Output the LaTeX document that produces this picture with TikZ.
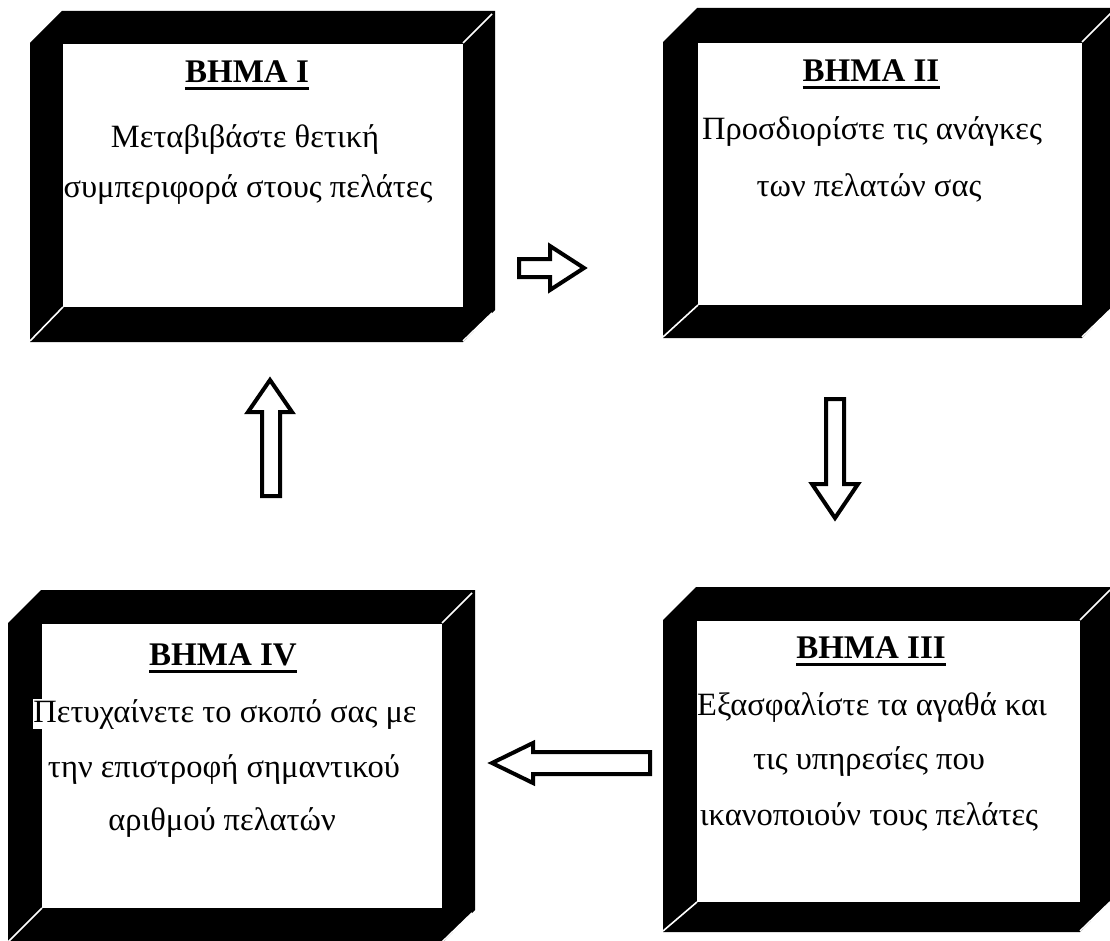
\documentclass[tikz,border=0pt]{standalone}
\usepackage{fontspec}
\setmainfont{Liberation Serif}
\newcommand\cubebox[8]{%
  % #1 name, #2 x0, #3 xi, #4 xr, #5 yF, #6 yb, #7 yB, #8 depth
  \fill[framefill] (#2,#7) -- (#2,#5) -- ({#2+#8},{#5-#8}) -- ({#4+#8},{#5-#8})
     -- ({#4+#8},{#7-#8}) -- (#4,#7) -- cycle;
  \fill[white] (#3,{#5+1}) rectangle (#4,#6);
  \coordinate (#1) at ({(#3+#4)/2},{(#5+#6)/2});
  \draw[edgeline] (#2,{#7-1}) -- (#3,#6);
  \draw[edgeline] (#4,#5) -- ({#4+#8-3},{#5-#8+3});
  \draw[edgeline] (#4,{#7-1}) -- ({#4+#8-3},{#7-#8+3});
}
\begin{document}
\begin{tikzpicture}[x=1pt,y=-1pt,
  framefill/.style={fill=black},
  edgeline/.style={draw=white,line width=1.6pt},
  txt/.style={font=\fontsize{32.5}{38}\selectfont,inner sep=0pt,anchor=base},
  head/.style={font=\fontsize{33}{40}\selectfont\bfseries,inner sep=0pt,anchor=base},
  uline/.style={line width=3pt},
  blockarrow/.style={draw=black,line width=4pt,fill=white,line join=miter}]
\useasboundingbox (0,0) rectangle (1110,941);
\clip (0,0) rectangle (1110,941);

% boxes
\cubebox{boxI}{30}{63}{463}{43}{307}{342}{32}
\cubebox{boxII}{663}{698}{1082}{42}{305}{338}{34}
\cubebox{boxIII}{663}{697}{1080}{620}{902}{932}{33}
\cubebox{boxIV}{8}{42}{442}{623}{908}{943}{33}

% texts box I
\node[head] (h1) at (247,83) {ΒΗΜΑ I};
\draw[uline] ([yshift=-6pt]h1.base west) -- ([yshift=-6pt]h1.base east);
\node[txt] (t1a) at (245,148) {Μεταβιβάστε θετική};
\node[txt] (t1b) at (248,198) {συμπεριφορά στους πελάτες};

% texts box II
\node[head] (h2) at (871,82) {ΒΗΜΑ II};
\draw[uline] ([yshift=-6pt]h2.base west) -- ([yshift=-6pt]h2.base east);
\node[txt] (t2a) at (872,140) {Προσδιορίστε τις ανάγκες};
\node[txt] (t2b) at (869,197) {των πελατών σας};

% texts box III
\node[head] (h3) at (871,658) {ΒΗΜΑ III};
\draw[uline] ([yshift=-6pt]h3.base west) -- ([yshift=-6pt]h3.base east);
\node[txt] (t3a) at (872,715) {Εξασφαλίστε τα αγαθά και};
\node[txt] (t3b) at (869,769) {τις υπηρεσίες που};
\node[txt] (t3c) at (869,825) {ικανοποιούν τους πελάτες};

% texts box IV
\node[head] (h4) at (223,665) {ΒΗΜΑ IV};
\draw[uline] ([yshift=-6pt]h4.base west) -- ([yshift=-6pt]h4.base east);
\node[txt,fill=white] (t4a) at (225,722) {Πετυχαίνετε το σκοπό σας με};
\node[txt] (t4b) at (224,777) {την επιστροφή σημαντικού};
\node[txt] (t4c) at (222,830) {αριθμού πελατών};

% arrows
% I -> II
\draw[blockarrow] (519,259) -- (550,259) -- (550,246) -- (584,268) -- (550,290)
   -- (550,277) -- (519,277) -- cycle;
% II -> III
\draw[blockarrow] (826,399) -- (844,399) -- (844,484) -- (858,484) -- (835,518)
   -- (812,484) -- (826,484) -- cycle;
% III -> IV
\draw[blockarrow] (650,752) -- (533,752) -- (533,743) -- (492,763) -- (533,783)
   -- (533,774) -- (650,774) -- cycle;
% IV -> I
\draw[blockarrow] (262,496) -- (262,412) -- (248,412) -- (270,380) -- (292,412)
   -- (280,412) -- (280,496) -- cycle;
\end{tikzpicture}
\end{document}
